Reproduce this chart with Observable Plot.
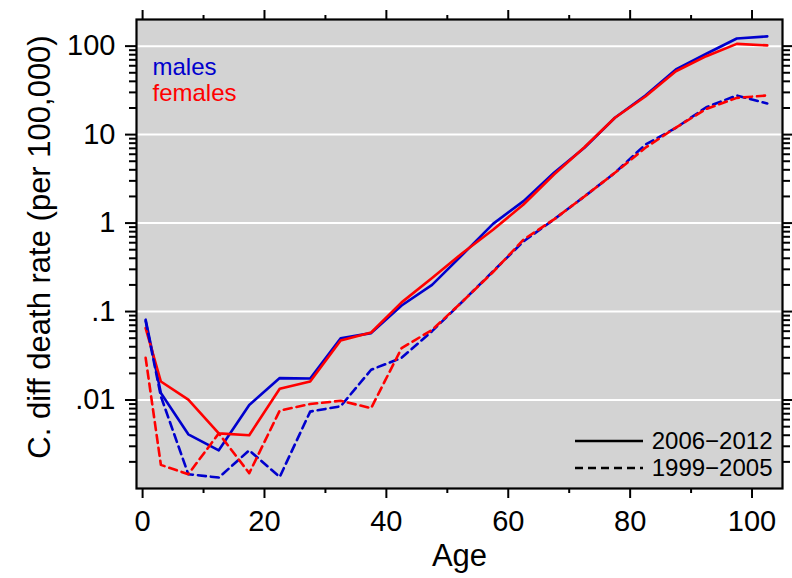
<!DOCTYPE html>
<html>
<head>
<meta charset="utf-8">
<script src="https://cdn.jsdelivr.net/npm/d3@7"></script>
<script src="https://cdn.jsdelivr.net/npm/@observablehq/plot@0.6"></script>
<style>
  html, body { margin: 0; padding: 0; background: #ffffff; }
  #chart { width: 792px; height: 578px; }
  svg { display: block; }
</style>
</head>
<body>
<div id="chart"></div>
<script>
// ---- data ----
const ages = [0.5, 3, 7.5, 12.5, 17.5, 22.5, 27.5, 32.5, 37.5, 42.5, 47.5, 52.5, 57.5, 62.5, 67.5, 72.5, 77.5, 82.5, 87.5, 92.5, 97.5, 102.5];
const males2006   = [0.081, 0.012, 0.0041, 0.0027, 0.0088, 0.0177, 0.0175, 0.050, 0.057, 0.117, 0.20, 0.44, 0.98, 1.77, 3.7, 7.1, 15.5, 27.7, 54.5, 82, 122, 129];
const females2006 = [0.065, 0.0162, 0.0101, 0.0042, 0.0040, 0.0134, 0.0162, 0.047, 0.058, 0.127, 0.239, 0.46, 0.84, 1.62, 3.54, 7.2, 15.5, 27, 52, 77, 106, 102];
const males1999   = [0.078, 0.011, 0.00145, 0.00133, 0.0027, 0.00135, 0.0074, 0.0085, 0.022, 0.030, 0.060, 0.13, 0.285, 0.62, 1.1, 2.0, 3.7, 7.7, 11.9, 20.4, 27.7, 22.5];
const females1999 = [0.030, 0.00185, 0.00145, 0.0042, 0.00149, 0.0076, 0.0090, 0.0098, 0.0081, 0.0386, 0.062, 0.13, 0.28, 0.65, 1.1, 2.0, 3.7, 7.1, 12, 19.5, 26, 27.7];

const sexLabels = ["males", "females"];
const periodLabels = ["2006\u22122012", "1999\u22122005"];
const yMajorTicks = [0.01, 0.1, 1, 10, 100];
const yMajorLabels = [".01", ".1", "1", "10", "100"];
const xMajorTicks = [0, 20, 40, 60, 80, 100];
const xMinorTicks = [10, 30, 50, 70, 90];
const yLabel = "C. diff death rate (per 100,000)";
const xLabel = "Age";

// minor log ticks 2..9 per decade
const yMinorTicks = [];
for (const d of [0.001, 0.01, 0.1, 1, 10]) for (let k = 2; k <= 9; k++) yMinorTicks.push(+(d * k).toPrecision(3));

const BLUE = "#0000cd", RED = "#ff0000";
const toRows = (vals) => ages.map((a, i) => ({age: a, rate: vals[i]}));

const W = 792, H = 578;
const mL = 136, mR = 10, mT = 19, mB = 90;
const FONT = "'Liberation Sans', Arial, Helvetica, sans-serif";

const lineOpts = {x: "age", y: "rate", strokeWidth: 2.6, strokeLinejoin: "round"};
const dash = "8,5";

const chart = Plot.plot({
  width: W, height: H,
  marginLeft: mL, marginRight: mR, marginTop: mT, marginBottom: mB,
  style: {fontFamily: FONT, fontSize: "28px", color: "#000", background: "#fff"},
  x: {domain: [-1, 105]},
  y: {type: "log", domain: [0.001, 200]},
  marks: [
    Plot.frame({fill: "#d3d3d3", stroke: "none"}),
    Plot.gridY(yMajorTicks, {stroke: "#ffffff", strokeOpacity: 1, strokeWidth: 2}),
    Plot.line(toRows(males2006), {...lineOpts, stroke: BLUE}),
    Plot.line(toRows(females2006), {...lineOpts, stroke: RED}),
    Plot.line(toRows(males1999), {...lineOpts, stroke: BLUE, strokeDasharray: dash}),
    Plot.line(toRows(females1999), {...lineOpts, stroke: RED, strokeDasharray: dash}),
    // left axis
    Plot.axisY(yMajorTicks, {anchor: "left", tickSize: 11, tickPadding: 10, strokeWidth: 2, fontSize: 29,
      tickFormat: (d) => yMajorLabels[yMajorTicks.indexOf(d)], label: null}),
    Plot.axisY(yMinorTicks, {anchor: "left", tickSize: 7, strokeWidth: 2, fill: "none", label: null}),
    // right axis
    Plot.axisY(yMajorTicks, {anchor: "right", tickSize: 10, strokeWidth: 2, fill: "none", label: null}),
    Plot.axisY(yMinorTicks, {anchor: "right", tickSize: 7, strokeWidth: 2, fill: "none", label: null}),
    // bottom axis
    Plot.axisX(xMajorTicks, {anchor: "bottom", tickSize: 10, tickPadding: 12, strokeWidth: 2, fontSize: 29, label: null}),
    Plot.axisX(xMinorTicks, {anchor: "bottom", tickSize: 5, strokeWidth: 2, fill: "none", label: null}),
    // top axis
    Plot.axisX(xMajorTicks, {anchor: "top", tickSize: 10, strokeWidth: 2, fill: "none", label: null}),
    Plot.axisX(xMinorTicks, {anchor: "top", tickSize: 5, strokeWidth: 2, fill: "none", label: null}),
    Plot.frame({stroke: "#000", strokeWidth: 2.2}),
    // axis titles
    Plot.text([yLabel], {text: (d) => d, frameAnchor: "left", rotate: -90, dx: -96, dy: -7, fontSize: 31, textAnchor: "middle", lineAnchor: "middle", fill: "#000"}),
    Plot.text([xLabel], {text: (d) => d, frameAnchor: "bottom", dy: 77, fontSize: 31, textAnchor: "middle", lineAnchor: "bottom", fill: "#000"}),
    // sex legend
    Plot.text([sexLabels[0]], {text: (d) => d, frameAnchor: "top-left", dx: 16, dy: 55, fontSize: 24, textAnchor: "start", lineAnchor: "bottom", fill: BLUE}),
    Plot.text([sexLabels[1]], {text: (d) => d, frameAnchor: "top-left", dx: 16, dy: 81, fontSize: 24, textAnchor: "start", lineAnchor: "bottom", fill: RED}),
    // period legend text
    Plot.text([periodLabels[0]], {text: (d) => d, frameAnchor: "bottom-right", dx: -10, dy: -40, fontSize: 24, textAnchor: "end", lineAnchor: "bottom", fill: "#000"}),
    Plot.text([periodLabels[1]], {text: (d) => d, frameAnchor: "bottom-right", dx: -10, dy: -13, fontSize: 24, textAnchor: "end", lineAnchor: "bottom", fill: "#000"})
  ]
});

document.getElementById("chart").appendChild(chart);

// period legend key lines (positioned relative to the frame)
const svg = d3.select(chart);
const frameRight = W - mR, frameBottom = H - mB;
const keys = svg.append("g");
keys.append("line").attr("x1", frameRight - 207).attr("x2", frameRight - 139)
  .attr("y1", frameBottom - 47).attr("y2", frameBottom - 47)
  .attr("stroke", "#000").attr("stroke-width", 2.6);
keys.append("line").attr("x1", frameRight - 207).attr("x2", frameRight - 139)
  .attr("y1", frameBottom - 20).attr("y2", frameBottom - 20)
  .attr("stroke", "#000").attr("stroke-width", 2.6).attr("stroke-dasharray", dash);
</script>
</body>
</html>
